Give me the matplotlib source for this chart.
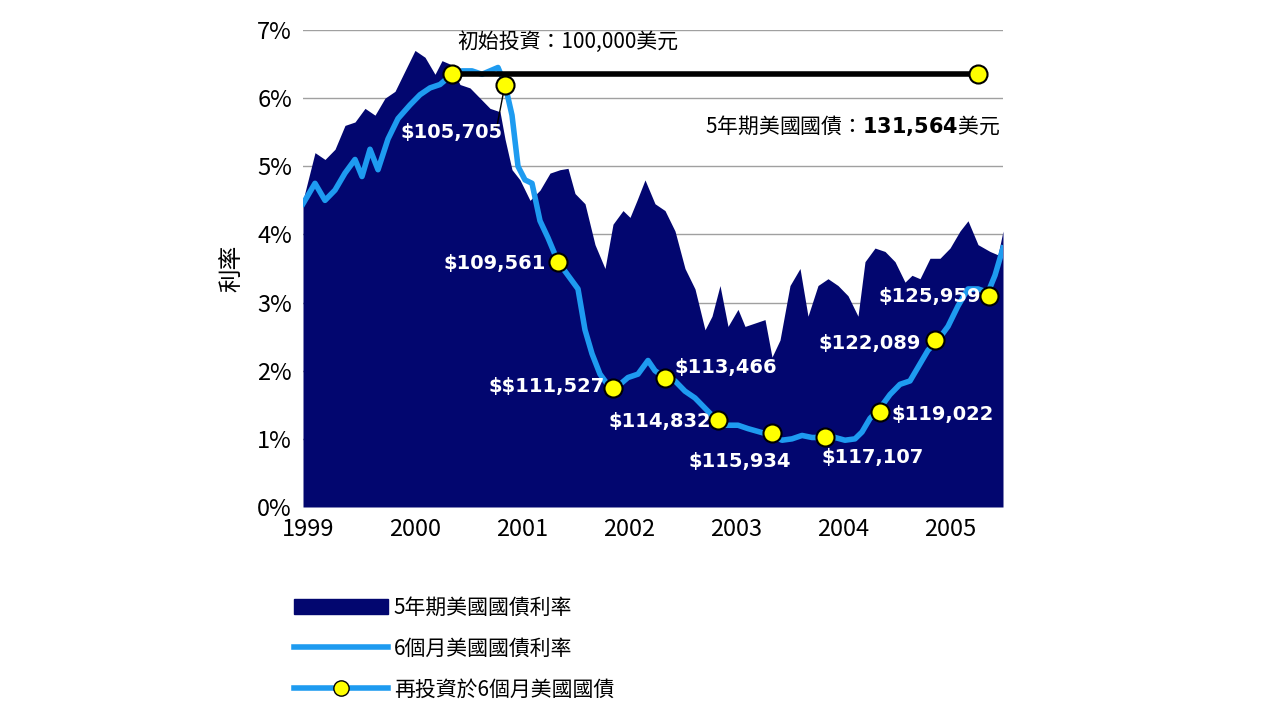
import matplotlib
matplotlib.use("Agg")
import matplotlib.pyplot as plt
from matplotlib.patches import Patch
from matplotlib.lines import Line2D

plt.rcParams["font.family"] = ["Noto Sans CJK TC", "DejaVu Sans"]

# 5年期 (pixel-read, x in decimal years)
px5 = [303, 315, 325, 335, 345, 355, 365, 375, 385, 395, 405, 415, 425, 435, 442, 450, 460, 470, 480, 490,
       500, 505, 512, 520, 530, 540, 550, 560, 568, 575, 585, 595, 605, 613, 623, 630, 637, 645, 655, 665,
       675, 685, 695, 705, 712, 720, 728, 738, 745, 755, 765, 772, 780, 790, 800, 808, 818, 828, 838, 848,
       858, 865, 875, 885, 895, 905, 912, 920, 930, 940, 950, 960, 968, 978, 990, 998, 1003]
yr5 = [4.5, 5.2, 5.1, 5.25, 5.6, 5.65, 5.85, 5.75, 6.0, 6.1, 6.4, 6.7, 6.6, 6.35, 6.55, 6.5, 6.2, 6.15, 6.0, 5.85,
       5.8, 5.4, 4.95, 4.8, 4.5, 4.65, 4.9, 4.95, 4.97, 4.6, 4.45, 3.85, 3.5, 4.15, 4.35, 4.25, 4.5, 4.8, 4.45, 4.35,
       4.05, 3.5, 3.2, 2.6, 2.8, 3.25, 2.65, 2.9, 2.65, 2.7, 2.75, 2.2, 2.45, 3.25, 3.5, 2.8, 3.25, 3.35, 3.25, 3.1,
       2.8, 3.6, 3.8, 3.75, 3.6, 3.3, 3.4, 3.35, 3.65, 3.65, 3.8, 4.05, 4.2, 3.85, 3.75, 3.7, 4.05]

# 6個月
px6 = [303, 315, 325, 335, 345, 355, 362, 370, 378, 388, 398, 410, 420, 430, 440, 452, 462, 472, 482, 490,
       498, 505, 512, 518, 525, 532, 540, 548, 558, 568, 578, 585, 592, 600, 610, 620, 628, 638, 648, 655,
       665, 675, 685, 695, 705, 715, 725, 738, 748, 760, 772, 782, 792, 802, 812, 822, 835, 845, 855, 862,
       870, 880, 890, 900, 910, 918, 928, 938, 948, 958, 968, 978, 988, 995, 1003]
yr6 = [4.45, 4.75, 4.5, 4.65, 4.9, 5.1, 4.85, 5.25, 4.95, 5.4, 5.7, 5.9, 6.05, 6.15, 6.2, 6.35, 6.4, 6.4, 6.35, 6.4,
       6.45, 6.2, 5.75, 5.0, 4.8, 4.75, 4.2, 3.95, 3.6, 3.4, 3.2, 2.6, 2.25, 1.95, 1.75, 1.8, 1.9, 1.95, 2.15, 2.0,
       1.9, 1.85, 1.7, 1.6, 1.45, 1.3, 1.2, 1.2, 1.15, 1.1, 1.05, 0.98, 1.0, 1.05, 1.02, 1.02, 1.02, 0.98, 1.0, 1.1,
       1.3, 1.45, 1.65, 1.8, 1.85, 2.05, 2.3, 2.45, 2.65, 2.95, 3.2, 3.2, 3.15, 3.4, 3.8]

mk_px = [452, 505, 558, 613, 665, 718, 772, 825, 880, 935, 989]
mk_y = [6.35, 6.2, 3.6, 1.75, 1.9, 1.28, 1.08, 1.02, 1.4, 2.45, 3.1]
mk_labels = ["", "$105,705", "$109,561", "$$111,527", "$113,466", "$114,832",
             "$115,934", "$117,107", "$119,022", "$122,089", "$125,959"]
end_px = 978
end_y = 6.35

def to_year(p):
    return 1999 + (p - 308) / 107.0

x5 = [to_year(p) for p in px5]
x6 = [to_year(p) for p in px6]
mk_x = [to_year(p) for p in mk_px]
end_x = to_year(end_px)

navy = "#02066F"
blue = "#1E9BF0"

fig = plt.figure(figsize=(12.8, 7.2), dpi=100)
ax = fig.add_axes([303 / 1280, 1 - 507 / 720, 700 / 1280, 477 / 720])
ax.set_xlim(to_year(303), to_year(1003))
ax.set_ylim(0, 7)
for v in range(1, 8):
    ax.axhline(v, color="#A0A0A0", lw=1, zorder=0)
ax.fill_between(x5, yr5, 0, color=navy, lw=0, zorder=1)
ax.plot(x6, yr6, color=blue, lw=4, zorder=2)
ax.plot([mk_x[0], end_x], [end_y, end_y], color="black", lw=4, zorder=3)
ax.plot(mk_x + [end_x], mk_y + [end_y], "o", ms=13, mfc="#FFFF00", mec="black", mew=1.5, zorder=5, ls="none")

# connector for $105,705
ax.plot([mk_x[1], mk_x[1] - 0.08], [mk_y[1], 5.55], color="black", lw=1, zorder=4)

lab_pos = [None, (452, 133), (495, 264), (547, 387), (726, 368), (660, 422),
           (740, 462), (873, 458), (943, 415), (870, 344), (930, 297)]
for lab, pos in zip(mk_labels, lab_pos):
    if pos is None:
        continue
    ax.text(to_year(pos[0]), (507 - pos[1]) / 68.1, lab.replace("$", r"\$"), color="white", fontsize=14,
            fontweight="bold", ha="center", va="center", zorder=6, family="DejaVu Sans")

ax.text(to_year(568), (507 - 42) / 68.1, "初始投資：100,000美元", fontsize=15, ha="center", va="center", zorder=6)
ax.text(to_year(1000), (507 - 126) / 68.1, "5年期美國國債：$\\mathbf{131{,}564}$美元", fontsize=15,
        ha="right", va="center", zorder=6)

years = [1999, 2000, 2001, 2002, 2003, 2004, 2005]
ax.set_xticks(years)
ax.set_xticklabels([str(y) for y in years], fontsize=17)
ax.set_yticks(range(8))
ax.set_yticklabels([f"{v}%" for v in range(8)], fontsize=17)
ax.tick_params(length=0, pad=8)
for s in ax.spines.values():
    s.set_visible(False)
ax.set_ylabel("利率", fontsize=17, labelpad=10)

handles = [Patch(color=navy),
           Line2D([0], [0], color=blue, lw=4),
           Line2D([0], [0], color=blue, lw=4, marker="o", ms=11, mfc="#FFFF00", mec="black")]
labels = ["5年期美國國債利率", "6個月美國國債利率", "再投資於6個月美國國債"]
fig.legend(handles, labels, loc="upper left", bbox_to_anchor=(275 / 1280, 1 - 578 / 720),
           frameon=False, fontsize=15, handlelength=4.5, numpoints=1, labelspacing=0.9, handletextpad=0.3)

fig.savefig("out.png", dpi=100)
